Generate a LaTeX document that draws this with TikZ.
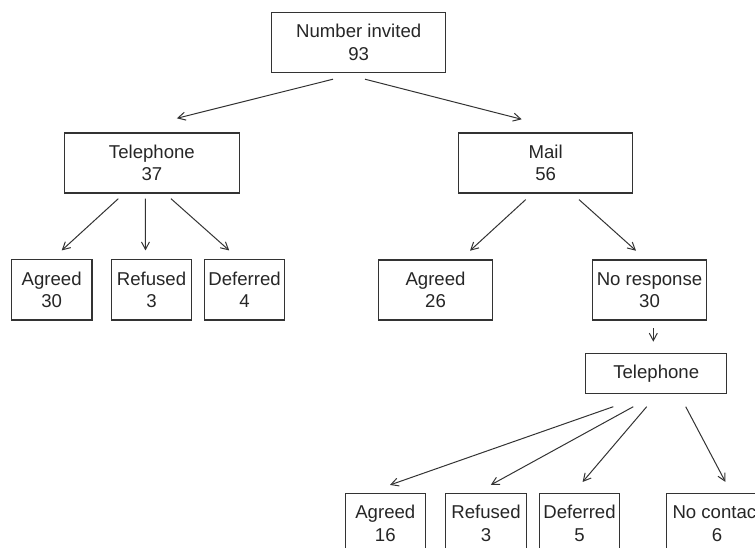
\documentclass[tikz,border=0pt]{standalone}
\usepackage{fontspec}
\setmainfont{Liberation Sans}
\usetikzlibrary{positioning, calc, arrows.meta}
\tikzset{
  flow box/.style={draw=black!80, line width=1.1, rectangle, inner sep=0, outer sep=0, align=center, text=black!85, font=\fontsize{18.6}{22.5}\selectfont,},
  flow wide/.style={flow box, minimum width=174, minimum height=60,},
  flow mid/.style={flow box, minimum width=114.4, minimum height=60,},
  flow leaf/.style={flow box, minimum width=80.5, minimum height=60.5,},
  flow edge/.style={black!80, line width=1.0, -{Straight Barb[length=7.5,width=8]},},
}

\begin{document}
\begin{tikzpicture}[x=1pt, y=-1pt]
\useasboundingbox (0,0) rectangle (755,548);
\clip (0,0) rectangle (755,548);

\node[flow wide] at (358.7,42.5) (n0) {Number invited\\93};
\node[flow wide, minimum width=175] at (151.9,163) (n1) {Telephone\\37};
\node[flow wide] at (545.7,163) (n2) {Mail\\56};
\node[flow leaf] at (51.7,289.7) (n3) {Agreed\\30};
\node[flow leaf, right=19.3pt of n3] (n4) {Refused\\3};
\node[flow leaf, right=12.6pt of n4] (n5) {Deferred\\4};
\node[flow mid] at (435.5,290) (n6) {Agreed\\26};
\node[flow mid, right=99.6pt of n6] (n7) {No response\\30};
\node[flow box, minimum width=141, minimum height=40] at (656.2,373.3) (n8) {Telephone};
\node[flow leaf] at (385.3,523.5) (n9) {Agreed\\16};
\node[flow leaf, right=20.2pt of n9] (n10) {Refused\\3};
\node[flow leaf, right=13pt of n10] (n11) {Deferred\\5};
\node[flow leaf, minimum width=101, right=46.7pt of n11] (n12) {No contact\\6};

\draw[flow edge] ($(n0.south)+(-25.7,6.7)$) -- ($(n1.north)+(25,-14.7)$);
\draw[flow edge] ($(n0.south)+(6.3,6.7)$) -- ($(n2.north)+(-24,-13.7)$);
\draw[flow edge] ($(n1.south)+(-33.6,5.7)$) -- ($(n3.north)+(10,-9)$);
\draw[flow edge] ($(n1.south)+(-6.6,5.7)$) -- ($(n4.north)+(-6,-9)$);
\draw[flow edge] ($(n1.south)+(19.1,5.7)$) -- ($(n5.north)+(-15.4,-9)$);
\draw[flow edge] ($(n2.south)+(-20,6.6)$) -- ($(n6.north)+(34.5,-9.3)$);
\draw[flow edge] ($(n2.south)+(33.3,6.6)$) -- ($(n7.north)+(-13.5,-9.3)$);
\draw[flow edge] ($(n7.south)+(3.8,8.3)$) -- ($(n8.north)+(-2.9,-11.6)$);
\draw[flow edge] ($(n8.south)+(-42.9,13.4)$) -- ($(n9.north)+(4.7,-8.3)$);
\draw[flow edge] ($(n8.south)+(-22.9,13.4)$) -- ($(n10.north)+(4.8,-8.3)$);
\draw[flow edge] ($(n8.south)+(-9.5,13.4)$) -- ($(n11.north)+(3.1,-11.3)$);
\draw[flow edge] ($(n8.south)+(29.5,13.4)$) -- ($(n12.north)+(8.5,-11.3)$);

\end{tikzpicture}
\end{document}
